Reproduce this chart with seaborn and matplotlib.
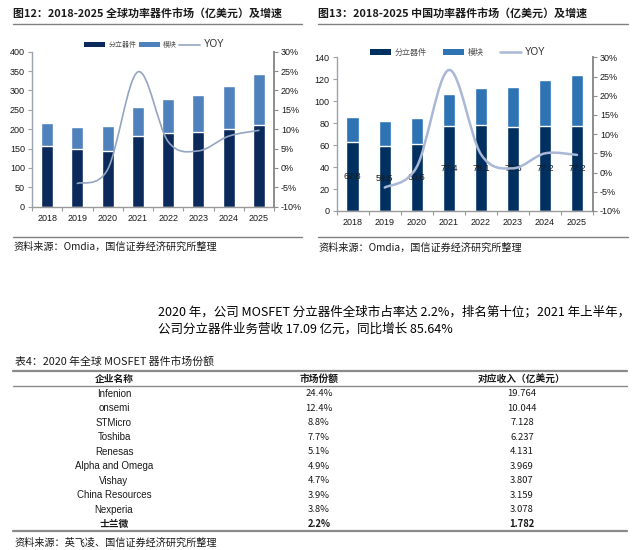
import matplotlib
matplotlib.use("Agg")
import matplotlib.pyplot as plt
import seaborn as sns
import pandas as pd
import numpy as np
from matplotlib.path import Path
from matplotlib.patches import PathPatch, Patch
from matplotlib.lines import Line2D
from matplotlib.ticker import FuncFormatter, MultipleLocator, FixedLocator

# ---------------- data ----------------
years = ["2018", "2019", "2020", "2021", "2022", "2023", "2024", "2025"]

global_total = [215, 206, 207, 258, 278, 289, 312, 343]
global_discrete = [157, 148, 145, 182, 189, 193, 200, 210]
global_yoy_years = ["2019", "2020", "2021", "2022", "2023", "2024", "2025"]
global_yoy = [-4.0, -0.4, 24.8, 6.8, 4.4, 8.2, 9.7]

china_total = [85.3, 82.3, 84.4, 106.6, 112.0, 113.3, 119.0, 124.2]
china_discrete = [62.8, 59.5, 60.6, 77.4, 78.1, 76.8, 77.2, 77.2]
china_yoy_years = ["2019", "2020", "2021", "2022", "2023", "2024", "2025"]
china_yoy = [-3.9, 1.5, 26.7, 4.8, 1.1, 5.0, 4.6]

companies = ["Infenion", "onsemi", "STMicro", "Toshiba", "Renesas",
             "Alpha and Omega", "Vishay", "China Resources", "Nexperia", "士兰微"]
shares = ["24.4%", "12.4%", "8.8%", "7.7%", "5.1%", "4.9%", "4.7%", "3.9%", "3.8%", "2.2%"]
revenues = ["19.764", "10.044", "7.128", "6.237", "4.131", "3.969", "3.807", "3.159", "3.078", "1.782"]
table_headers = ["企业名称", "市场份额", "对应收入（亿美元）"]

title_left = "图12：2018-2025 全球功率器件市场（亿美元）及增速"
title_right = "图13：2018-2025 中国功率器件市场（亿美元）及增速"
source_charts = "资料来源：Omdia，国信证券经济研究所整理"
paragraph = ["2020 年，公司 MOSFET 分立器件全球市占率达 2.2%，排名第十位；2021 年上半年，",
             "公司分立器件业务营收 17.09 亿元，同比增长 85.64%"]
table_title = "表4：2020 年全球 MOSFET 器件市场份额"
table_source = "资料来源：英飞凌、国信证券经济研究所整理"
legend_labels = ["分立器件", "模块", "YOY"]

# ---------------- style ----------------
sns.set_theme(style="white")
CJK = ["Noto Sans CJK SC", "DejaVu Sans"]
LAT = ["Liberation Sans", "DejaVu Sans"]
plt.rcParams["font.family"] = CJK
plt.rcParams["axes.unicode_minus"] = False

W, H = 640, 550
fig = plt.figure(figsize=(6.4, 5.5), dpi=100)
fig.patch.set_facecolor("white")


def fx(x):
    return x / W


def fy(y):
    return 1 - y / H


def hline(x0, x1, y, lw=1.0, color="#808080"):
    fig.add_artist(Line2D([fx(x0), fx(x1)], [fy(y), fy(y)], transform=fig.transFigure,
                          color=color, lw=lw))


def smooth_patch(xs, ys, color, lw):
    n = len(xs)
    verts = [(xs[0], ys[0])]
    codes = [Path.MOVETO]
    for i in range(n - 1):
        p0 = i - 1 if i > 0 else i
        p3 = i + 2 if i + 2 < n else i + 1
        c1 = (xs[i] + (xs[i + 1] - xs[p0]) / 6.0, ys[i] + (ys[i + 1] - ys[p0]) / 6.0)
        c2 = (xs[i + 1] - (xs[p3] - xs[i]) / 6.0, ys[i + 1] - (ys[p3] - ys[i]) / 6.0)
        verts += [c1, c2, (xs[i + 1], ys[i + 1])]
        codes += [Path.CURVE4] * 3
    return PathPatch(Path(verts, codes), facecolor="none", edgecolor=color, lw=lw,
                     capstyle="round", joinstyle="round")


def make_chart(rect, total, discrete, yoy_years, yoy, ymax, ystep, navy, blue,
               linecolor, linelw, legend_xy, colspacing, legfs, handlelen,
               labels=False):
    ax = fig.add_axes(rect)
    df = pd.DataFrame({"year": years, "total": total, "discrete": discrete})
    sns.barplot(data=df, x="year", y="total", color=blue, saturation=1, width=0.39, ax=ax)
    sns.barplot(data=df, x="year", y="discrete", color=navy, saturation=1, width=0.39, ax=ax)
    ax.set_xlim(-0.5, len(years) - 0.5)
    ax.set_ylim(0, ymax)
    ax.yaxis.set_major_locator(MultipleLocator(ystep))
    ax.set_xlabel("")
    ax.set_ylabel("")
    for s in ["top", "right"]:
        ax.spines[s].set_visible(False)
    ax.spines["left"].set_color("#9aa3ad")
    ax.spines["bottom"].set_color("#9a9a9a")
    ax.spines["left"].set_linewidth(1.0)
    ax.spines["bottom"].set_linewidth(1.0)
    ax.tick_params(axis="y", which="major", direction="out", length=3, width=0.8,
                   color="#9aa3ad", labelsize=6.5, pad=2, left=True)
    ax.tick_params(axis="x", which="major", length=0, labelsize=6.5, pad=5)
    ax.xaxis.set_minor_locator(FixedLocator(np.arange(-0.5, len(years), 1.0)))
    ax.tick_params(axis="x", which="minor", direction="out", length=3, width=0.8,
                   color="#9a9a9a", bottom=True)
    for t in ax.get_xticklabels() + ax.get_yticklabels():
        t.set_fontfamily(LAT)
        t.set_color("#1a1a1a")
    if labels:
        ax.bar_label(ax.containers[1], labels=[f"{v:.1f}" for v in discrete],
                     label_type="center", fontsize=6.5, color="#1a1a1a", family=LAT)

    ax2 = ax.twinx()
    ax2.set_ylim(-10, 30)
    ax2.yaxis.set_major_locator(MultipleLocator(5))
    ax2.yaxis.set_major_formatter(FuncFormatter(lambda v, p: f"{int(round(v))}%"))
    xs = [years.index(y) for y in yoy_years]
    ax2.add_patch(smooth_patch(xs, yoy, linecolor, linelw))
    for s in ["top", "left", "bottom"]:
        ax2.spines[s].set_visible(False)
    ax2.spines["right"].set_color("#8c8c8c")
    ax2.spines["right"].set_linewidth(1.4)
    ax2.tick_params(axis="y", direction="out", length=3, width=0.8, color="#8c8c8c",
                    labelsize=6.5, pad=2, right=True)
    for t in ax2.get_yticklabels():
        t.set_fontfamily(LAT)
        t.set_color("#1a1a1a")
    ax2.grid(False)
    ax.grid(False)

    handles = [Patch(facecolor=navy, edgecolor="none"),
               Patch(facecolor=blue, edgecolor="none"),
               Line2D([0], [0], color=linecolor, lw=linelw)]
    leg = ax.legend(handles, legend_labels, ncol=3, loc="center",
                    bbox_to_anchor=legend_xy, frameon=False, fontsize=legfs,
                    handlelength=handlelen, handleheight=0.7, handletextpad=0.5,
                    columnspacing=colspacing, borderaxespad=0)
    for t in leg.get_texts():
        t.set_color("#505050")
        t.set_fontweight("light")
        if t.get_text() == "YOY":
            t.set_fontfamily(LAT)
            t.set_fontsize(7)
            t.set_fontweight("normal")
            t.set_color("#303030")
    return ax, ax2


# left chart
make_chart([fx(32), fy(206.7), (274 - 32) / W, (206.7 - 51.7) / H],
           global_total, global_discrete, global_yoy_years, global_yoy,
           400, 50, "#0b2a5b", "#4f81bd", "#94a5c2", 1.2, (0.505, 1.05), 0.3, 5.0, 3.0)

# right chart
make_chart([fx(336.7), fy(211), (593 - 336.7) / W, (211 - 57.3) / H],
           china_total, china_discrete, china_yoy_years, china_yoy,
           140, 20, "#00305f", "#2e74b5", "#a9b8d6", 1.8, (0.473, 1.034), 2.0, 5.8, 2.6,
           labels=True)

# titles & rules
fig.text(fx(13), fy(13), title_left, fontsize=7.9, fontweight="bold", va="center",
         ha="left", color="#1a1a1a")
fig.text(fx(318), fy(13), title_right, fontsize=7.9, fontweight="bold", va="center",
         ha="left", color="#1a1a1a")
hline(13, 302, 23.5, lw=1.0)
hline(318, 628, 23.5, lw=1.0)
hline(13, 302, 236.7, lw=1.0)
hline(318, 628, 237, lw=1.0)
fig.text(fx(13), fy(247), source_charts, fontsize=7.3, va="center", ha="left",
         color="#1a1a1a")
fig.text(fx(318), fy(248), source_charts, fontsize=7.3, va="center", ha="left",
         color="#1a1a1a")

# paragraph
fig.text(fx(157.7), fy(311.7), paragraph[0], fontsize=9, va="center", ha="left",
         color="#000000")
fig.text(fx(157.7), fy(329.3), paragraph[1], fontsize=9, va="center", ha="left",
         color="#000000")

# table
fig.text(fx(15), fy(361.7), table_title, fontsize=7.8, va="center", ha="left",
         color="#1a1a1a")
hline(13.3, 626.7, 371, lw=1.6, color="#8a8a8a")
hline(13.3, 626.7, 385.7, lw=1.0, color="#8a8a8a")
hline(13.3, 626.7, 531, lw=1.6, color="#8a8a8a")
col_x = [114, 319, 522]
for cx, h in zip(col_x, table_headers):
    fig.text(fx(cx), fy(379), h, fontsize=7, fontweight="bold", ha="center",
             va="center", color="#1a1a1a")
row_y0, row_dy = 394, 14.48
for i, (c, s, r) in enumerate(zip(companies, shares, revenues)):
    y = row_y0 + i * row_dy
    last = (i == len(companies) - 1)
    wt = "bold" if last else "normal"
    fig.text(fx(col_x[0]), fy(y), c, fontsize=7, ha="center", va="center",
             fontweight=wt, family=(CJK if last else LAT), color="#1a1a1a")
    fig.text(fx(col_x[1]), fy(y), s, fontsize=6.8, ha="center", va="center",
             fontweight=wt, color="#1a1a1a")
    fig.text(fx(col_x[2]), fy(y), r, fontsize=6.8, ha="center", va="center",
             fontweight=wt, color="#1a1a1a")
fig.text(fx(14), fy(542.3), table_source, fontsize=7.3, va="center", ha="left",
         color="#1a1a1a")

fig.savefig("out.png", dpi=100, facecolor="white")
